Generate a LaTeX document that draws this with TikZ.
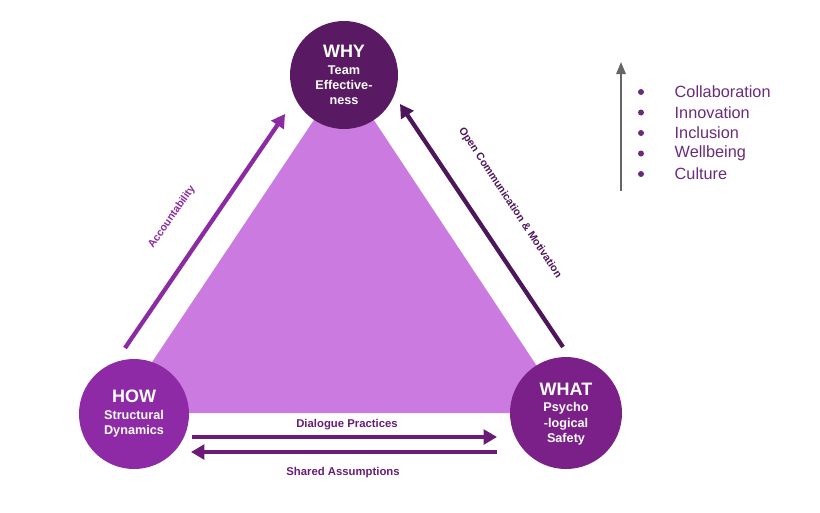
\documentclass[tikz,border=0pt]{standalone}
\usepackage{fontspec}
\setmainfont{Liberation Sans}
\usetikzlibrary{arrows.meta}
\definecolor{whyc}{HTML}{5A1A63}
\definecolor{howc}{HTML}{8E2AA5}
\definecolor{whatc}{HTML}{7B2088}
\definecolor{tric}{HTML}{CB7BE0}
\definecolor{accc}{HTML}{8B2AA3}
\definecolor{openc}{HTML}{4E165A}
\definecolor{botc}{HTML}{6A1B78}
\definecolor{legc}{HTML}{6B2A7C}
\tikzset{
  circ/.style={circle, minimum size=#1*0.75pt, inner sep=0pt, draw=none},
  ctext/.style={text=white, align=center, font=\fontsize{9.5}{11.5}\selectfont\bfseries},
  bigarrow/.style={line width=3.2pt, -{Triangle[width=11pt,length=10pt]}},
  lbl/.style={font=\fontsize{8}{9.6}\selectfont\bfseries},
  legtext/.style={anchor=west, text=legc, font=\fontsize{12.2}{14}\selectfont},
  bullet/.style={circle, fill=legc, inner sep=0pt, minimum size=4.5pt}
}
\begin{document}
\begin{tikzpicture}[x=0.75pt,y=-0.75pt]
\useasboundingbox (0,0) rectangle (820,512);
% triangle
\fill[tric] (344,75) -- (118,413) -- (568,413) -- cycle;
% circles
\node[circ=108, fill=whyc] (why) at (344,75) {};
\node[circ=110, fill=howc] (how) at (134,414) {};
\node[circ=112, fill=whatc] (what) at (566,413) {};
\node[ctext] (whyt) at (344,75) {{\fontsize{13.5}{15}\selectfont WHY}\\[1pt]Team\\Effective-\\ness};
\node[ctext] (howt) at (134,414) {{\fontsize{13.5}{15}\selectfont HOW}\\[1pt]Structural\\Dynamics};
\node[ctext] (whatt) at (566,414) {{\fontsize{13.5}{15}\selectfont WHAT}\\[1pt]Psycho\\-logical\\Safety};
% arrow endpoints
\coordinate (a1) at (125,348);
\coordinate (a2) at (285,114);
\coordinate (o1) at (563,347);
\coordinate (o2) at (400,104);
\coordinate (d1) at (192,437);
\coordinate (d2) at (497,437);
\coordinate (s1) at (497,452);
\coordinate (s2) at (191,452);
\draw[bigarrow, accc] (a1) -- (a2);
\draw[bigarrow, openc] (o1) -- (o2);
\draw[bigarrow, botc] (d1) -- (d2);
\draw[bigarrow, botc] (s1) -- (s2);
% labels
\node[lbl, text=accc, rotate=55] (lacc) at (172,217) {Accountability};
\node[lbl, text=openc, rotate=-56.5] (lopen) at (510,203) {Open Communication \& Motivation};
\node[lbl, text=botc, font=\fontsize{8.5}{10}\selectfont\bfseries] (ldia) at (347,425) {Dialogue Practices};
\node[lbl, text=botc, font=\fontsize{8.5}{10}\selectfont\bfseries] (lsha) at (343,473) {Shared Assumptions};
% legend
\coordinate (g1) at (621,191);
\coordinate (g2) at (621,62);
\draw[line width=1.5pt, gray!80!black, -{Triangle[width=7pt,length=9pt]}] (g1) -- (g2);
\foreach \t [count=\i] in {Collaboration,Innovation,Inclusion,Wellbeing,Culture}{
  \node[bullet] (b\i) at (641,{92+20.5*(\i-1)}) {};
  \node[legtext] (t\i) at (670,{92+20.5*(\i-1)}) {\t};
}
\end{tikzpicture}
\end{document}
